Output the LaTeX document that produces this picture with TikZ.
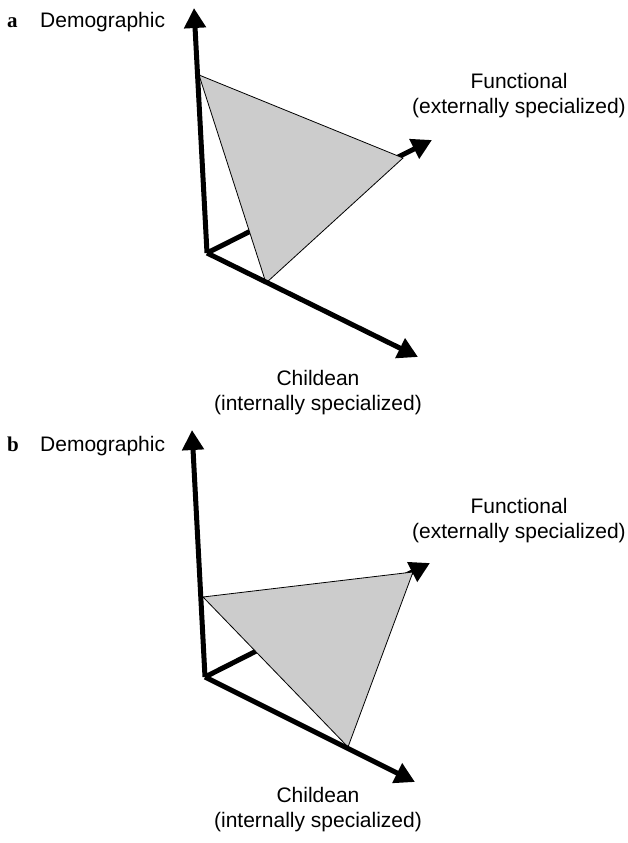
\documentclass[tikz,border=0pt]{standalone}
\usepackage{fontspec}
\setmainfont{Liberation Serif}
\setsansfont{Liberation Sans}
\usetikzlibrary{arrows.meta}

\begin{document}
\begin{tikzpicture}[x=1pt, y=-1pt,
  axis/.style = {line width=5pt, -{Triangle[length=20pt, width=21pt]}},
  plane/.style = {draw, fill=black!20, line width=0.8pt},
  lbl/.style = {font=\sffamily\fontsize{21}{25.5}\selectfont, align=center, inner sep=0pt},
  tag/.style = {font=\rmfamily\bfseries\fontsize{21}{25.5}\selectfont, inner sep=0pt}]

  \useasboundingbox (0,0) rectangle (628,843);

  % panel a
  \coordinate (oA) at (207,253);
  \coordinate (demA) at (194,8);
  \coordinate (funA) at (432,140);
  \coordinate (chiA) at (418,357);
  \coordinate (pA1) at (199,75);
  \coordinate (pA2) at (403,158);
  \coordinate (pA3) at (266,283);

  \draw[axis] (oA) -- (funA);
  \draw[plane] (pA1) -- (pA2) -- (pA3) -- cycle;
  \draw[axis] (oA) -- (demA);
  \draw[axis] (oA) -- (chiA);

  \node[tag, anchor=base west] (tagA) at (7,28) {a};
  \node[lbl, anchor=base west] (demLblA) at (40,28) {Demographic};
  \node[lbl, anchor=north] (funLblA) at (519,73) {Functional\\(externally specialized)};
  \node[lbl, anchor=north] (chiLblA) at (318,370) {Childean\\(internally specialized)};

  % panel b
  \coordinate (oB) at (205,677);
  \coordinate (demB) at (192,430);
  \coordinate (funB) at (430,563);
  \coordinate (chiB) at (415,782);
  \coordinate (pB1) at (203,597);
  \coordinate (pB2) at (413,572);
  \coordinate (pB3) at (348,747);

  \draw[axis] (oB) -- (funB);
  \draw[plane] (pB1) -- (pB2) -- (pB3) -- cycle;
  \draw[axis] (oB) -- (demB);
  \draw[axis] (oB) -- (chiB);

  \node[tag, anchor=base west] (tagB) at (7,451) {b};
  \node[lbl, anchor=base west] (demLblB) at (40,451) {Demographic};
  \node[lbl, anchor=north] (funLblB) at (519,498) {Functional\\(externally specialized)};
  \node[lbl, anchor=north] (chiLblB) at (318,787) {Childean\\(internally specialized)};
\end{tikzpicture}
\end{document}
